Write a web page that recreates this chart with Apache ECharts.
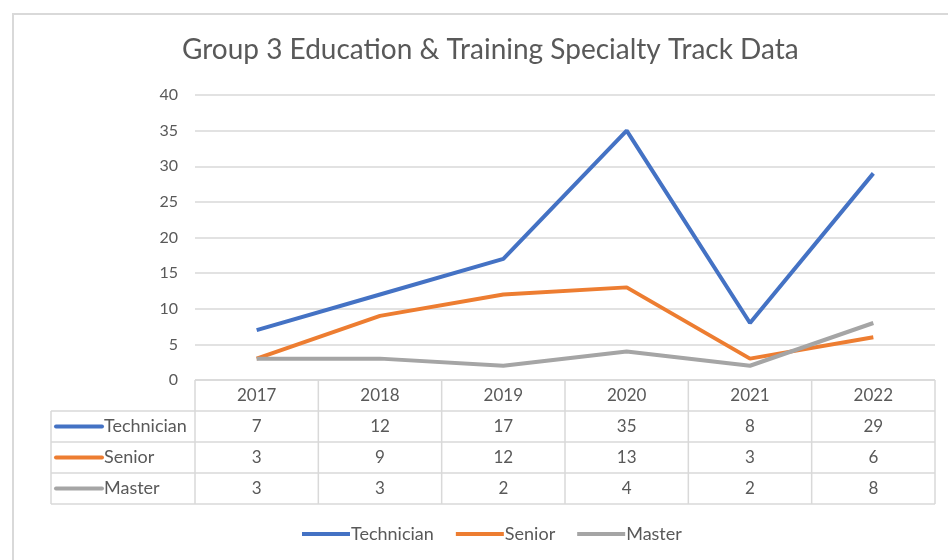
<!DOCTYPE html>
<html>
<head>
<meta charset="utf-8">
<script src="https://cdn.jsdelivr.net/npm/echarts@6/dist/echarts.min.js"></script>
<style>html,body{margin:0;padding:0;background:#fff;}#c{width:948px;height:560px;}</style>
</head>
<body>
<div id="c"></div>
<script>
const categories = ['2017', '2018', '2019', '2020', '2021', '2022'];
const seriesNames = ['Technician', 'Senior', 'Master'];
const technician = [7, 12, 17, 35, 8, 29];
const senior = [3, 9, 12, 13, 3, 6];
const master = [3, 3, 2, 4, 2, 8];
const yTicks = { min: 0, max: 40, interval: 5 };

const colors = ['#4472C4', '#ED7D31', '#A5A5A5'];
const values = [technician, senior, master];
const W = 948, H = 560;
const G = { left: 195, right: 13, top: 95, bottom: 180 };
const ROW_H = 31;
const TABLE_LEFT = 51;
const txt = '#595959';
const border = '#D9D9D9';
const FONT = 'Lato';

const chart = echarts.init(document.getElementById('c'));

const gx0 = G.left, gx1 = W - G.right, gy1 = H - G.bottom;
const colW = (gx1 - gx0) / categories.length;

const graphics = [];
graphics.push({ type: 'rect', shape: { x: 13, y: 14, width: W + 20, height: H + 20 }, style: { fill: 'none', stroke: border, lineWidth: 2 }, silent: true, z: -1 });
for (let r = 0; r <= values.length + 1; r++) {
  const y = gy1 + r * ROW_H;
  const x0 = r === 0 ? gx0 : TABLE_LEFT;
  graphics.push({ type: 'line', shape: { x1: x0, y1: y, x2: gx1, y2: y }, style: { stroke: border, lineWidth: 1.5 }, silent: true });
}
for (let c = 0; c <= categories.length; c++) {
  const x = gx0 + c * colW;
  graphics.push({ type: 'line', shape: { x1: x, y1: gy1, x2: x, y2: gy1 + (values.length + 1) * ROW_H }, style: { stroke: border, lineWidth: 1.5 }, silent: true });
}
graphics.push({ type: 'line', shape: { x1: TABLE_LEFT, y1: gy1 + ROW_H, x2: TABLE_LEFT, y2: gy1 + (values.length + 1) * ROW_H }, style: { stroke: border, lineWidth: 1.5 }, silent: true });
seriesNames.forEach((name, i) => {
  const cy = gy1 + (i + 1.5) * ROW_H;
  graphics.push({ type: 'line', shape: { x1: 56, y1: cy, x2: 102, y2: cy }, style: { stroke: colors[i], lineWidth: 4, lineCap: 'round' }, silent: true });
  graphics.push({ type: 'text', x: 104, y: cy, style: { text: name, fill: txt, font: '18px ' + FONT, textVerticalAlign: 'middle', textAlign: 'left' }, silent: true });
});

const xAxes = [{
  type: 'category', data: categories, gridIndex: 0, boundaryGap: true,
  axisLine: { show: false }, axisTick: { show: false },
  axisLabel: { color: txt, fontSize: 17, fontFamily: FONT, margin: 7 }
}];
values.forEach((arr, i) => {
  xAxes.push({
    type: 'category', data: categories, gridIndex: 0, position: 'bottom', offset: (i + 1) * ROW_H,
    axisLine: { show: false }, axisTick: { show: false }, splitLine: { show: false },
    axisLabel: { color: txt, fontSize: 17, fontFamily: FONT, margin: 7, formatter: (v, idx) => String(arr[idx]) }
  });
});

chart.setOption({
  animation: false,
  backgroundColor: '#fff',
  title: {
    text: 'Group 3 Education & Training Specialty Track Data',
    left: 177, top: 31,
    textStyle: { color: txt, fontSize: 28, fontWeight: 'normal', fontFamily: FONT }
  },
  legend: {
    data: seriesNames, bottom: 12, left: 297,
    icon: 'rect', itemWidth: 48, itemHeight: 4, itemGap: 22,
    textStyle: { color: txt, fontSize: 18, fontFamily: FONT, padding: [0, 0, 0, -4] }
  },
  grid: { left: G.left, right: G.right, top: G.top, bottom: G.bottom, containLabel: false },
  xAxis: xAxes,
  yAxis: {
    type: 'value', min: yTicks.min, max: yTicks.max, interval: yTicks.interval,
    axisLine: { show: false }, axisTick: { show: false },
    axisLabel: { color: txt, fontSize: 16, fontFamily: FONT, margin: 17 },
    splitLine: { lineStyle: { color: border, width: 1.5 } }
  },
  graphic: graphics,
  series: values.map((arr, i) => ({
    name: seriesNames[i], type: 'line', data: arr, xAxisIndex: 0,
    symbol: 'none', lineStyle: { color: colors[i], width: 4 }, itemStyle: { color: colors[i] }
  }))
});
</script>
</body>
</html>
